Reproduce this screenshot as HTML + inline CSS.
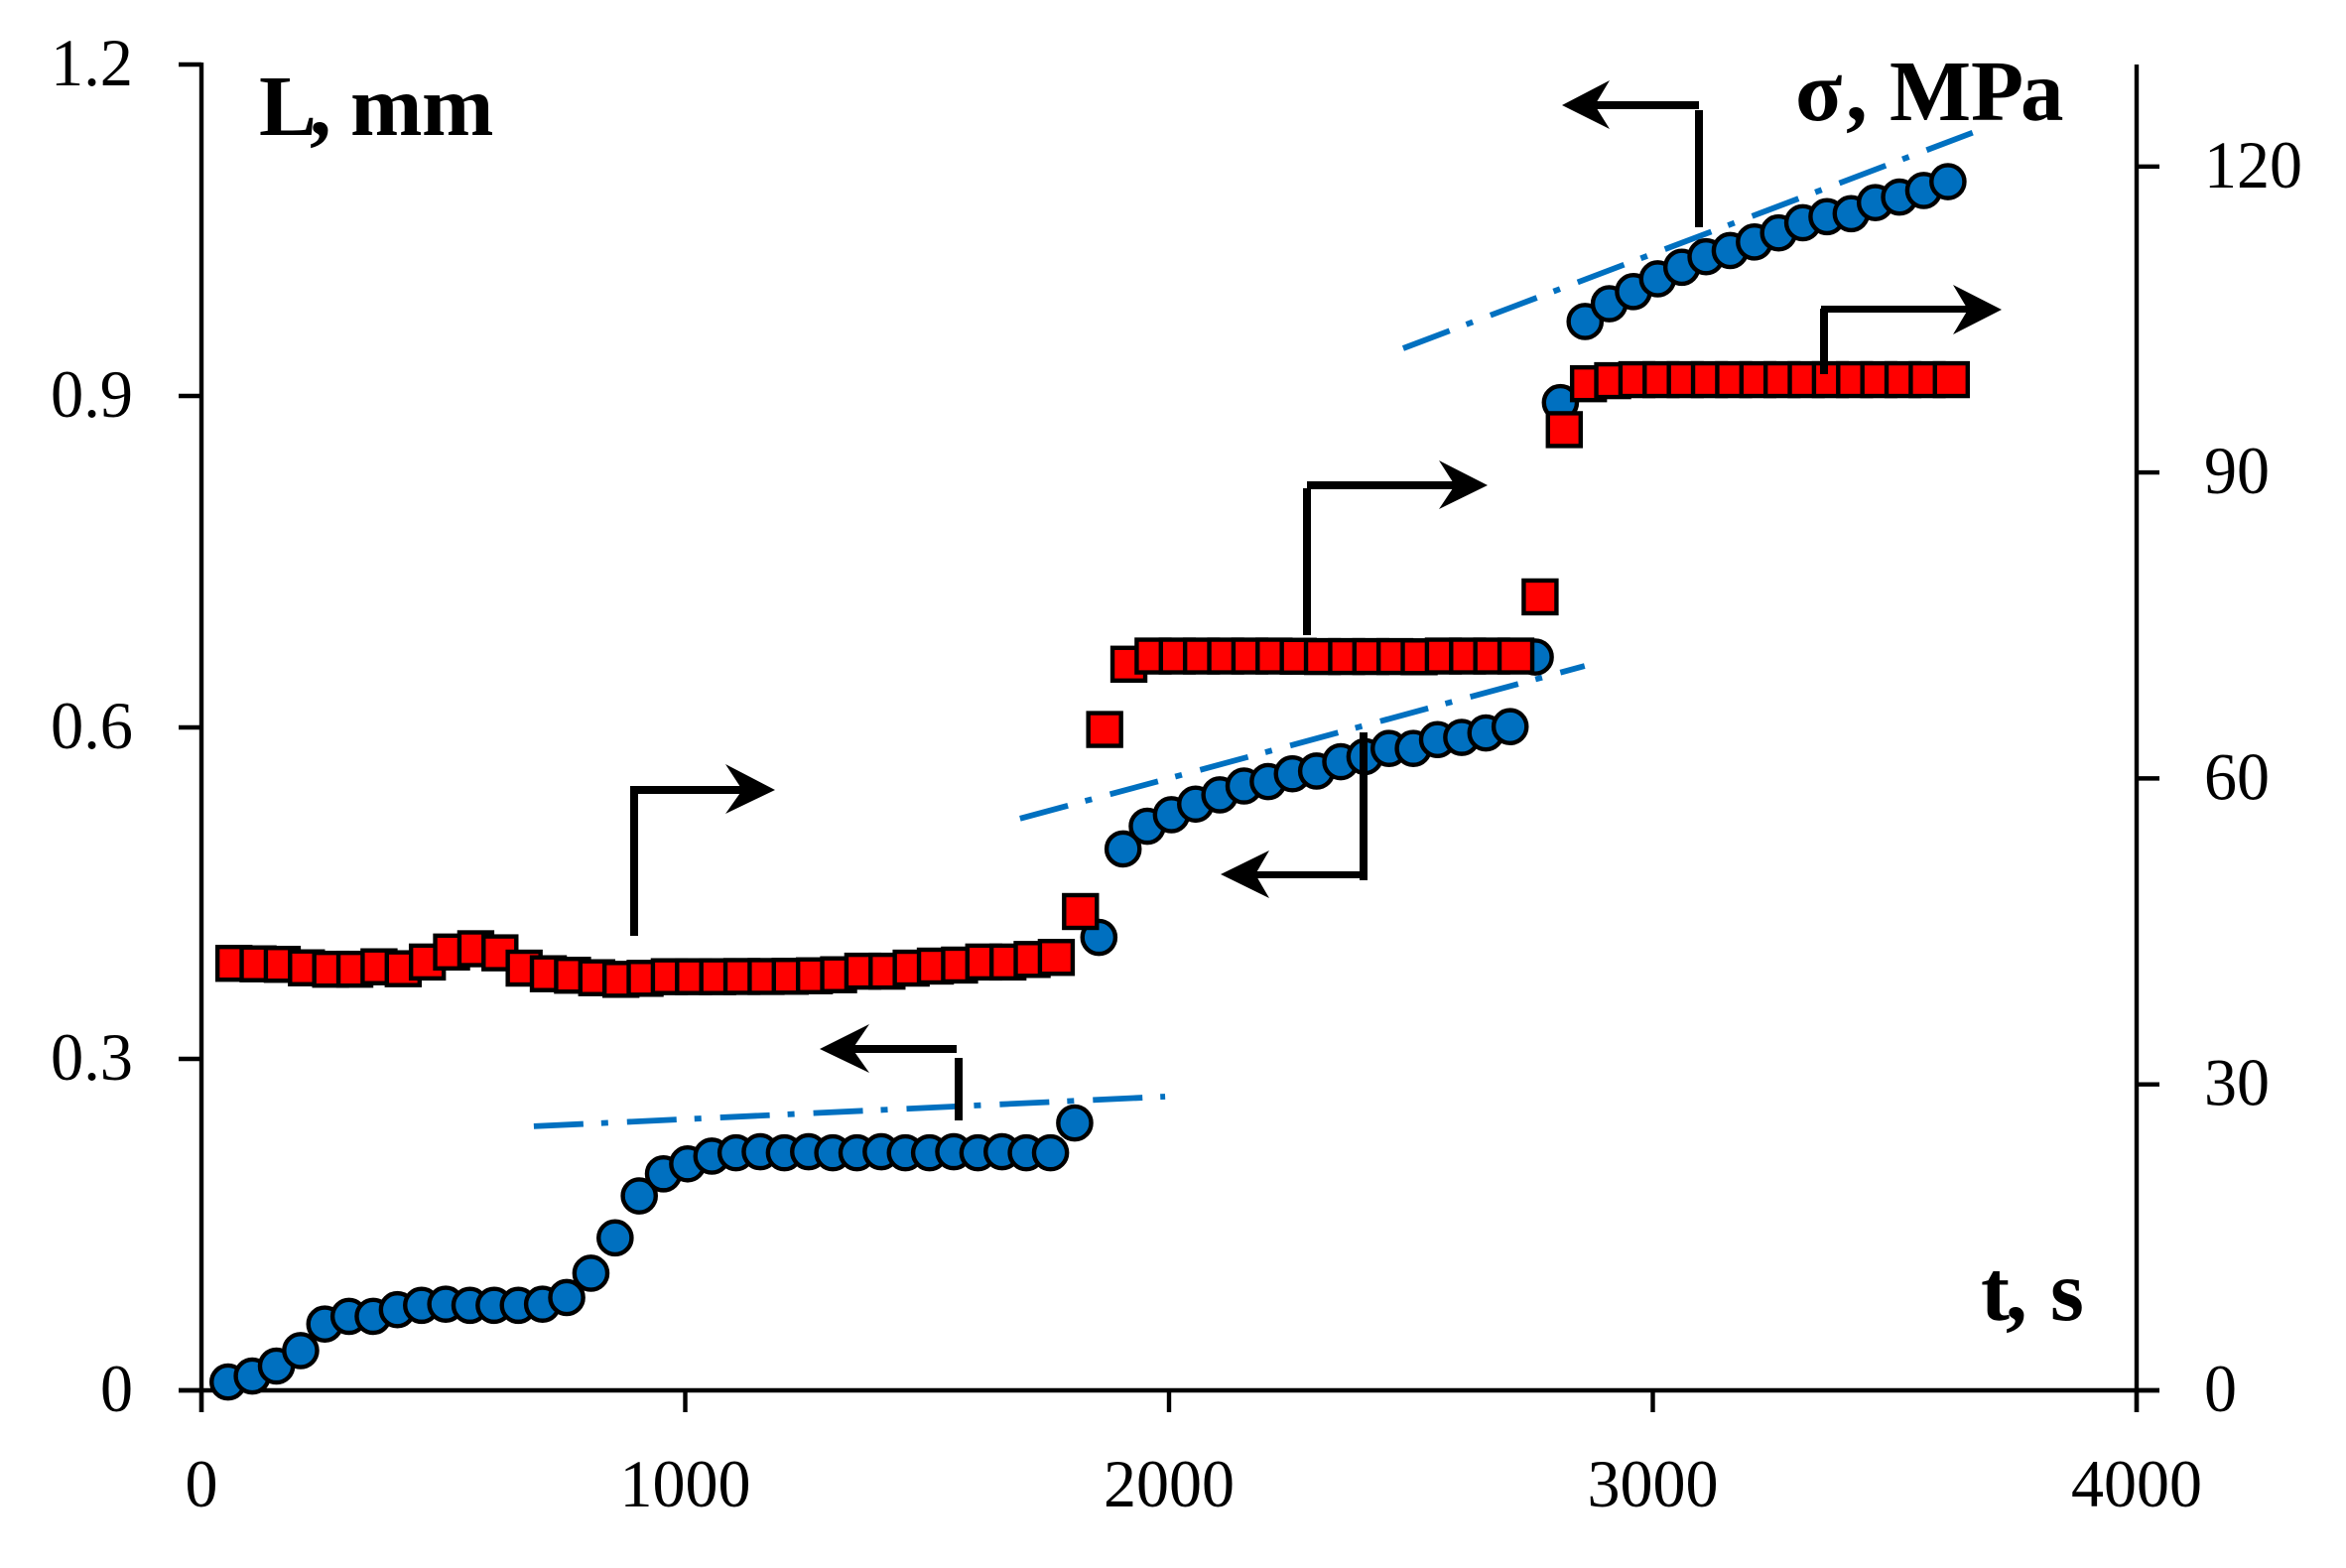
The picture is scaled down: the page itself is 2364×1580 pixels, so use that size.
<!DOCTYPE html>
<html lang="en">
<head>
<meta charset="utf-8">
<title>L and sigma versus time</title>
<style>
html,body{margin:0;padding:0;background:#fff;}
svg{display:block;}
text{font-family:"Liberation Serif",serif;fill:#000;}
.tick-text{font-size:68px;}
.title-text{font-size:87px;font-weight:bold;}
</style>
</head>
<body>
<svg id="chart" xmlns="http://www.w3.org/2000/svg" width="2364" height="1580" viewBox="0 0 2364 1580">
  <rect x="0" y="0" width="2364" height="1580" fill="#fff"/>
  <g id="trend-layer"></g>
  <g id="axis-layer"></g>
  <g id="length-layer"></g>
  <g id="stress-layer"></g>
  <g fill="#000" stroke="none">
    <g>
      <rect x="635" y="792" width="115" height="8"/><rect x="635" y="794" width="8" height="149"/>
      <path d="M781 796 L731 770 L748 796 L731 820 Z"/>
    </g>
    <g>
      <rect x="857" y="1053" width="107" height="8"/><rect x="962" y="1066" width="8" height="63"/>
      <path d="M826 1057 L876 1032 L859 1057 L876 1081 Z"/>
    </g>
    <g>
      <rect x="1317" y="485" width="152" height="8"/><rect x="1313" y="492" width="8" height="148"/>
      <path d="M1499 489 L1450 464 L1466 489 L1450 513 Z"/>
    </g>
    <g>
      <rect x="1262" y="878" width="108" height="7"/><rect x="1370" y="738" width="8" height="149"/>
      <path d="M1230 881 L1279 857 L1265 881 L1279 905 Z"/>
    </g>
    <g>
      <rect x="1605" y="102" width="107" height="8"/><rect x="1708" y="111" width="8" height="118"/>
      <path d="M1574 106 L1622 81 L1607 106 L1622 130 Z"/>
    </g>
    <g>
      <rect x="1835" y="308" width="150" height="7"/><rect x="1834" y="311" width="8" height="66"/>
      <path d="M2017 312 L1968 287 L1983 312 L1968 337 Z"/>
    </g>
  </g>
  <text class="title-text" x="261 312 332 353 425" y="136">L, mm</text>
  <text class="title-text" x="1809 1860 1882 1904 1986 2036" y="121">σ, MPa</text>
  <text class="title-text" x="1996 2021 2043 2066" y="1330">t, s</text>
</svg>
<script>
var lengthTimes = [55,105,155,205,255,305,355,405,455,505,555,605,655,705,755,805,855,905,955,1005,1055,1105,1155,1205,1255,1305,1355,1405,1455,1505,1555,1605,1655,1705,1755,1805,1855,1905,1955,2005,2055,2105,2155,2205,2255,2305,2355,2405,2455,2505,2555,2605,2655,2705,2757,2809,2860,2910,2960,3010,3060,3110,3160,3210,3260,3310,3360,3410,3460,3510,3560,3610];
var lengthValues = [0.0076,0.013,0.022,0.036,0.060,0.067,0.067,0.073,0.077,0.078,0.077,0.077,0.077,0.078,0.084,0.106,0.138,0.176,0.196,0.205,0.212,0.215,0.216,0.215,0.216,0.215,0.215,0.216,0.215,0.215,0.216,0.215,0.216,0.215,0.215,0.242,0.410,0.490,0.5106,0.521,0.5306,0.539,0.547,0.551,0.558,0.5605,0.569,0.5736,0.581,0.581,0.589,0.591,0.595,0.6007,0.6637,0.894,0.9674,0.9835,0.9945,1.006,1.0165,1.026,1.0316,1.0394,1.0476,1.0568,1.0623,1.065,1.075,1.080,1.086,1.094];
var stressTimes = [67,117,167,217,267,317,367,417,467,517,567,617,667,717,767,817,867,917,967,1017,1067,1117,1167,1217,1267,1317,1367,1417,1467,1517,1567,1617,1667,1717,1767,1817,1867,1917,1967,2017,2067,2117,2167,2217,2267,2317,2367,2417,2467,2517,2567,2617,2667,2717,2767,2817,2867,2917,2967,3017,3067,3117,3167,3217,3267,3317,3367,3417,3467,3517,3567,3617];
var stressValues = [41.87,41.82,41.77,41.43,41.29,41.29,41.53,41.34,42.0,42.98,43.3,42.9,41.4,40.85,40.7,40.46,40.3,40.4,40.56,40.56,40.56,40.58,40.58,40.6,40.65,40.75,41.1,41.1,41.4,41.6,41.7,42.0,42.0,42.25,42.45,46.95,64.8,71.2,72.0,72.0,72.0,72.0,72.0,72.0,71.98,71.95,71.95,71.95,71.95,71.93,72.0,72.0,72.0,72.0,77.8,94.2,98.7,99.0,99.1,99.1,99.1,99.1,99.1,99.1,99.1,99.1,99.1,99.1,99.1,99.1,99.1,99.1];
var trendTimes = [[687,1992],[1692,2859],[2484,3661]];
var trendValues = [[0.239,0.2659],[0.5175,0.6556],[0.9431,1.1383]];
var timeTicks = [0,1000,2000,3000,4000];
var lengthTicks = [0,0.3,0.6,0.9,1.2];
var lengthTickLabels = ["0","0.3","0.6","0.9","1.2"];
var stressTicks = [0,30,60,90,120];

var SVGNS = "http://www.w3.org/2000/svg";
function xScale(t){ return 203 + (t / 4000) * 1950; }
function yLeft(v){ return 1401 - (v / 1.2) * 1336; }
function yRight(v){ return 1401 - (v / 130) * 1336; }
function labelWidth(s){
  var w = 0;
  for (var i = 0; i < s.length; i++) w += (s[i] === ".") ? 17 : 33;
  return w;
}
function make(tag, parent, attrs, text){
  var el = document.createElementNS(SVGNS, tag);
  for (var k in attrs) el.setAttribute(k, attrs[k]);
  if (text !== undefined) {
    el.textContent = text;
    el.setAttribute("textLength", labelWidth(text));
    el.setAttribute("lengthAdjust", "spacingAndGlyphs");
  }
  parent.appendChild(el);
  return el;
}
var axisLayer = document.getElementById("axis-layer");
var lengthLayer = document.getElementById("length-layer");
var stressLayer = document.getElementById("stress-layer");
var trendLayer = document.getElementById("trend-layer");
var axisStroke = {stroke:"#000","stroke-width":4.4,fill:"none"};

var leftAxis = make("line", axisLayer, Object.assign({x1:xScale(0),x2:xScale(0),y1:yLeft(1.2)-2,y2:yLeft(0)+22}, axisStroke));


var rightAxis = make("line", axisLayer, Object.assign({x1:xScale(4000),x2:xScale(4000),y1:yLeft(1.2),y2:yLeft(0)+22}, axisStroke));


var bottomAxis = make("line", axisLayer, Object.assign({x1:xScale(0)-23,x2:xScale(4000)+23,y1:yLeft(0),y2:yLeft(0)}, axisStroke));



timeTicks.forEach(function(t){
  var mark = make("line", axisLayer, Object.assign({x1:xScale(t),x2:xScale(t),y1:yLeft(0),y2:yLeft(0)+22}, axisStroke));
  
  
  var label = make("text", axisLayer, {"class":"tick-text",x:xScale(t),y:1518,"text-anchor":"middle"}, String(t));
  
  
});
lengthTicks.forEach(function(v,i){
  var mark = make("line", axisLayer, Object.assign({x1:xScale(0)-23,x2:xScale(0),y1:yLeft(v),y2:yLeft(v)}, axisStroke));
  
  
  var label = make("text", axisLayer, {"class":"tick-text",x:134,y:yLeft(v)+21,"text-anchor":"end"}, lengthTickLabels[i]);
  
  
});
stressTicks.forEach(function(v){
  var mark = make("line", axisLayer, Object.assign({x1:xScale(4000),x2:xScale(4000)+23,y1:yRight(v),y2:yRight(v)}, axisStroke));
  
  
  var label = make("text", axisLayer, {"class":"tick-text",x:2221,y:yRight(v)+21,"text-anchor":"start"}, String(v));
  
  
});
trendTimes.forEach(function(ts,i){
  var ln = make("line", trendLayer, {x1:xScale(ts[0]),y1:yLeft(trendValues[i][0]),x2:xScale(ts[1]),y2:yLeft(trendValues[i][1]),stroke:"#0070C0","stroke-width":5.8,"stroke-dasharray":"50 18 7 19",fill:"none"});
  
  
});
lengthValues.forEach(function(v,i){
  var c = make("circle", lengthLayer, {cx:xScale(lengthTimes[i]),cy:yLeft(v),r:16.6,fill:"#0070C0",stroke:"#000","stroke-width":4.4});
  
  
});
stressValues.forEach(function(v,i){
  var r = make("rect", stressLayer, {x:xScale(stressTimes[i])-16.5,y:yRight(v)-16.5,width:33,height:33,fill:"#FF0000",stroke:"#000","stroke-width":4.4});
  
  
});
</script>
</body>
</html>
